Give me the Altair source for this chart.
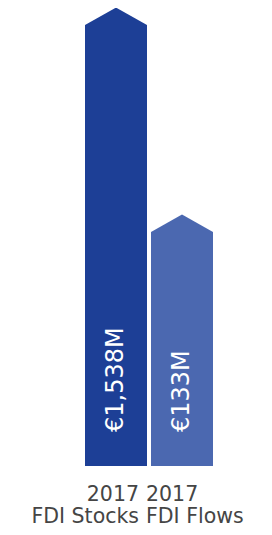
import altair as alt
import pandas as pd

categories = ["2017 FDI Stocks", "2017 FDI Flows"]
value_labels = ["€1,538M", "€133M"]
# relative arrow heights (shoulder) as drawn in the pictogram, % of plot height
arrow_heights = [96.3, 51.1]
colors = ["#1d3f96", "#4b68b0"]

df = pd.DataFrame({"cat": categories, "label": value_labels, "h": arrow_heights})

x = alt.X(
    "cat:N",
    sort=categories,
    scale=alt.Scale(paddingInner=4 / 66, paddingOuter=0),
    axis=alt.Axis(
        title=None,
        domain=False,
        ticks=False,
        tickSize=0,
        labelAngle=0,
        labelFont="DejaVu Sans",
        labelFontSize=20.5,
        labelColor="#454545",
        labelLineHeight=22,
        labelPadding=18,
        labelExpr="[slice(datum.label, 0, 4), slice(datum.label, 5)]",
        labelAlign={"condition": {"test": "datum.value == '2017 FDI Stocks'", "value": "right"}, "value": "left"},
        labelOffset={"condition": {"test": "datum.value == '2017 FDI Stocks'", "value": 23}, "value": -36},
    ),
)
y = alt.Y("h:Q", scale=alt.Scale(domain=[0, 100]), axis=None)
color = alt.Color("cat:N", sort=categories, scale=alt.Scale(domain=categories, range=colors), legend=None)

base = alt.Chart(df)

bars = base.mark_bar(opacity=1).encode(x=x, y=y, color=color)
heads = base.mark_point(
    shape="M-1,0L0,-0.56L1,0Z", size=3844, filled=True, opacity=1, strokeWidth=0
).encode(x=x, y=y, color=color)
texts = base.mark_text(
    angle=270, align="left", baseline="middle", dx=34, dy=0,
    font="DejaVu Sans", fontSize=24, color="white"
).encode(x=x, y=alt.datum(0), text="label:N")

chart = alt.layer(bars, heads, texts).properties(
    width=128, height=458,
    autosize=alt.AutoSizeParams(type="none"),
    padding={"left": 77, "top": 0, "right": 51, "bottom": 61},
).configure_view(stroke=None)

chart.save("out.html", embed_options={"renderer": "svg", "actions": False})
